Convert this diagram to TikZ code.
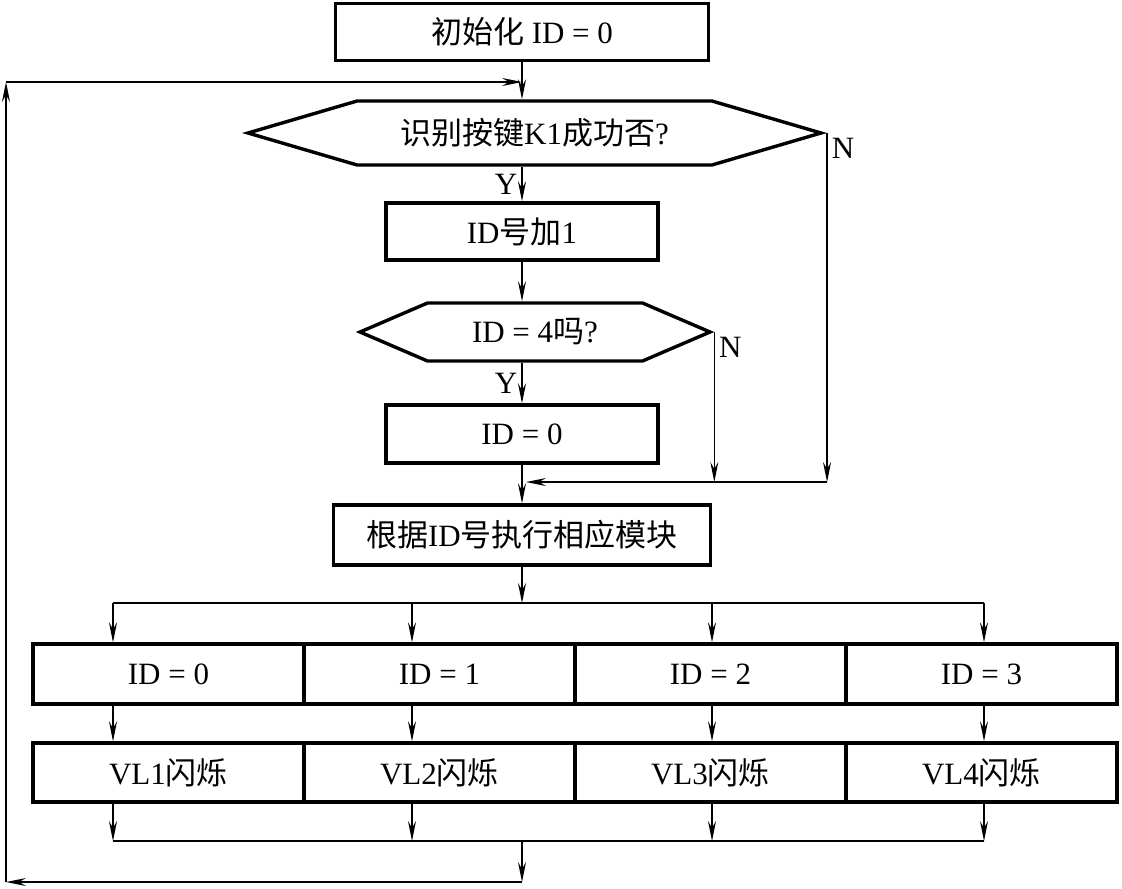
\documentclass[tikz,border=0pt]{standalone}
\usepackage{fontspec}
\setmainfont{Liberation Serif}
\newfontfamily\cjk{Noto Sans CJK SC}
\usetikzlibrary{arrows.meta,shapes.symbols}
\begin{document}
\begin{tikzpicture}[x=0.5pt,y=-0.5pt,
  font=\fontsize{15.5}{18}\selectfont,
  box/.style={draw,line width=1.7pt,inner sep=0pt},
  hexa/.style={box,signal,signal to=east and west},
  link/.style={line width=0.8pt},
  flow/.style={link,-{Stealth[length=10pt,width=4pt,inset=3.5pt]}}]
\useasboundingbox (0,0) rectangle (1122,888);
\node[box,minimum width=186.5pt,minimum height=28.5pt] (init) at (522,32)
  {{\cjk 初始化} ID = 0};
\node[hexa,signal pointer angle=32.7,minimum width=286.5pt,
  minimum height=32pt] (k1) at (534.5,133) {{\cjk 识别按键}K1{\cjk 成功否}?};
\node[box,minimum width=136pt,minimum height=28.5pt] (inc) at (522,231.5)
  {ID{\cjk 号加}1};
\node[hexa,signal pointer angle=46.5,minimum width=175pt,
  minimum height=29pt] (id4) at (535,332) {ID = 4{\cjk 吗}?};
\node[box,minimum width=136pt,minimum height=29pt] (rst) at (522,434) {ID = 0};
\node[box,minimum width=188.5pt,minimum height=30pt] (exec) at (522,535)
  {{\cjk 根据}ID{\cjk 号执行相应模块}};
\coordinate (top) at (522,82);
\coordinate (lt) at (6,82);
\coordinate (lb) at (6,882);
\coordinate (back) at (522,882);
\coordinate (jn) at (522,482);
\coordinate (sp) at (522,603);
\coordinate (col) at (522,841);
\foreach \i/\x/\n in {0/113/1,1/412/2,2/712/3,3/984/4}{
  \node[box,minimum width=135.5pt,minimum height=30pt] (c\i)
    at (168.5+271*\i,674) {ID = \i};
  \node[box,minimum width=135.5pt,minimum height=29.5pt] (v\i)
    at (168.5+271*\i,772.5) {VL\n{\cjk 闪烁}};
  \coordinate (a\i) at (\x,603);
}
\draw[flow] (init) -- (init |- k1.north);
\draw[flow] (init |- k1.south) -- (inc) node[midway,left,inner sep=2pt] (y1) {Y};
\draw[flow] (inc) -- (inc |- id4.north);
\draw[flow] (inc |- id4.south) -- (rst) node[midway,left,inner sep=2pt] (y2) {Y};
\draw[flow] (rst) -- (exec);
\draw[flow] (k1.east) node[below right,inner sep=2pt] (n1) {N} -- (k1.east |- jn);
\draw[flow] (id4.east) node[below right,inner sep=2pt] (n2) {N} -- (id4.east |- jn);
\draw[flow,shorten >=2pt] (k1.east |- jn) -- (jn);
\draw[flow] (exec) -- (sp);
\draw[link] (a0) -- (a3);
\foreach \i in {0,...,3}{
  \draw[flow] (a\i) -- (a\i |- c\i.north);
  \draw[flow] (a\i |- c\i.south) -- (a\i |- v\i.north);
  \draw[flow] (a\i |- v\i.south) -- (a\i |- col);
}
\draw[link] (a0 |- col) -- (a3 |- col);
\draw[flow] (col) -- (back);
\draw[flow] (back) -- (lb);
\draw[flow] (lb) -- (lt);
\draw[flow] (lt) -- (top);
\end{tikzpicture}
\end{document}
